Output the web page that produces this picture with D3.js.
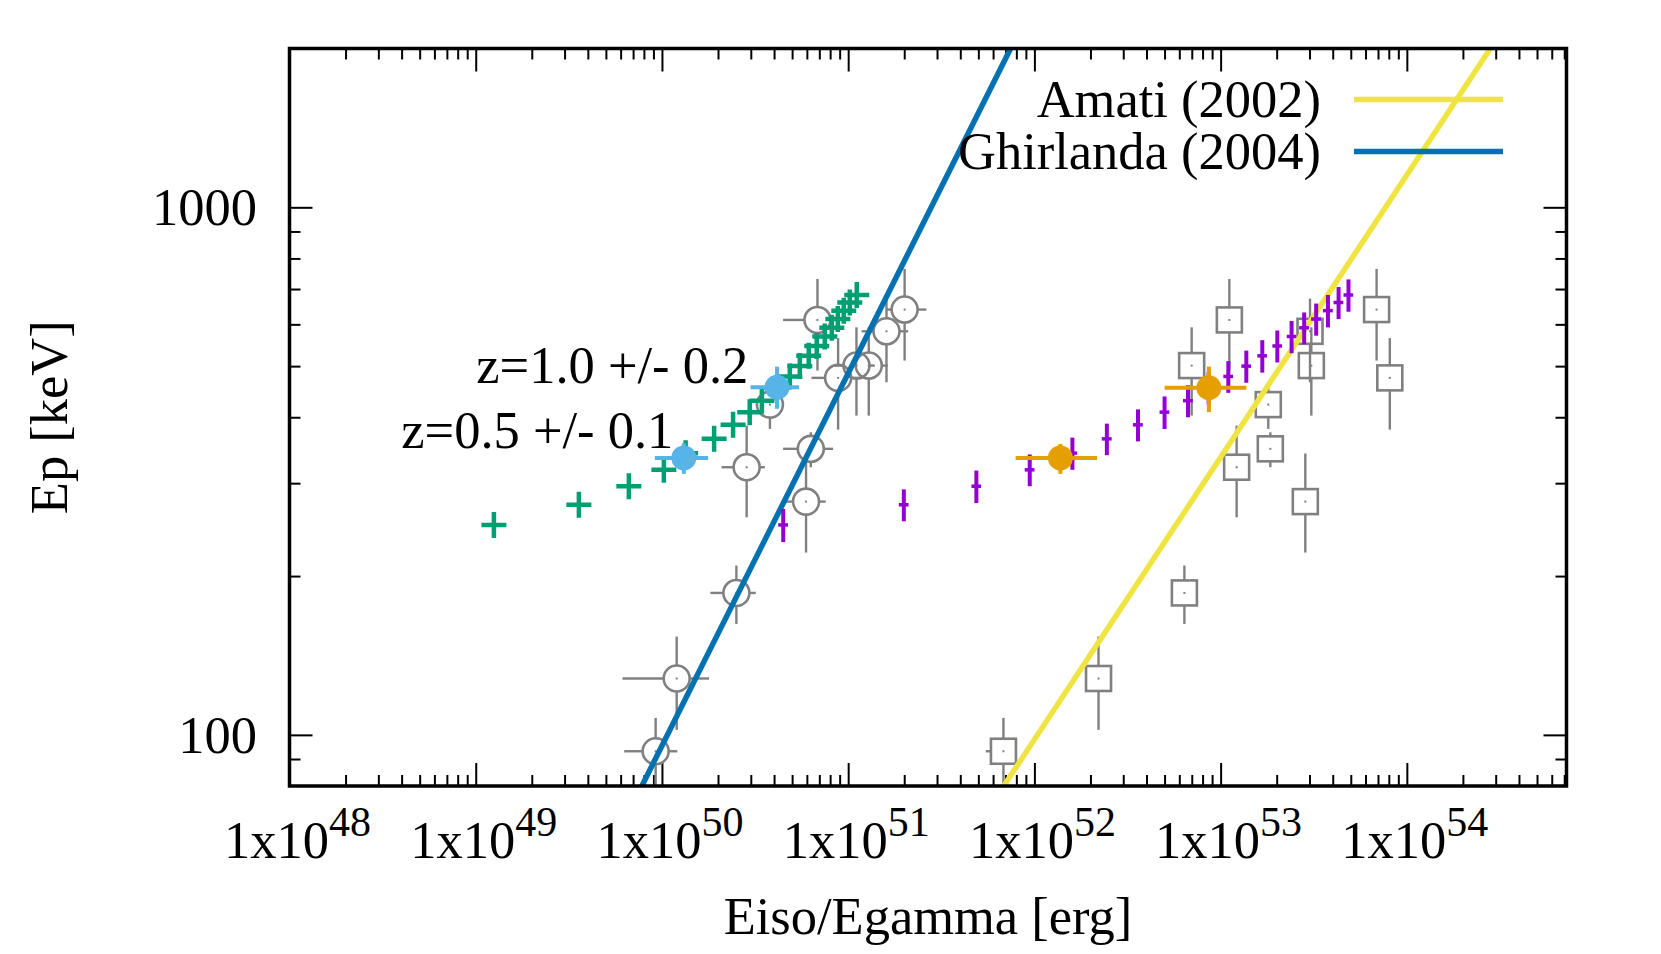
<!DOCTYPE html>
<html><head><meta charset="utf-8">
<script src="https://cdn.jsdelivr.net/npm/d3@7"></script>
<style>
body{margin:0;background:#fff}
svg{display:block}
text{font-family:"Liberation Serif","Times New Roman",serif;fill:#000}
</style>
</head><body>
<svg id="chart" width="1661" height="954"></svg>
<script>
// ---------------- data ----------------
const xTickExps = [48, 49, 50, 51, 52, 53, 54];
const xMinorMult = [2, 3, 4, 5, 6, 7, 8, 9];
const yTickValues = [100, 1000];
const yMinorValues = [90, 200, 300, 400, 500, 600, 700, 800, 900];

// Ghirlanda sample (open circles, Egamma) and Amati sample (open squares, Eiso)
const circE   = [9.25e49, 1.20e50, 2.51e50, 5.94e50, 6.30e50, 2.85e50, 3.80e50, 6.84e50, 8.83e50, 1.108e51, 1.29e51, 1.606e51, 2.01e51];
const circElo = [6.27e49, 6.14e49, 1.82e50, 4.39e50, 4.47e50, 2.09e50, 3.20e50, 4.47e50, 6.35e50, 8.48e50, 1.046e51, 1.18e51, 1.606e51];
const circEhi = [1.21e50, 1.79e50, 3.19e50, 7.58e50, 8.30e50, 3.57e50, 4.50e50, 7.96e50, 1.18e51, 1.39e51, 1.63e51, 2.10e51, 2.63e51];
const sampleEp   = [93.1, 127.9, 185.8, 276.8, 348.5, 321.6, 422.7, 611.7, 475, 501.2, 501.2, 582.1, 640];
const sampleEpLo = [72, 102.2, 162.3, 221.6, 321.6, 258.5, 380.2, 490.4, 379, 402.9, 402.9, 465.9, 512.2];
const sampleEpHi = [107.7, 153.6, 209.4, 341.5, 374.6, 385.7, 463.9, 731.5, 565, 592.4, 592.4, 671.4, 764.2];
const sqE   = [6.82e51, 2.21e52, 6.39e52, 2.85e53, 1.849e53, 1.219e53, 1.803e53, 1.114e53, 8.10e53, 6.99e52, 3.07e53, 3.02e53, 6.88e53];
const sqElo = [5.48e51, 2.21e52, 6.39e52, 2.85e53, 1.849e53, 1.219e53, 1.803e53, 1.114e53, 8.10e53, 6.99e52, 3.07e53, 3.02e53, 6.88e53];
const sqEhi = [8.00e51, 2.21e52, 6.39e52, 2.85e53, 1.849e53, 1.219e53, 1.803e53, 1.114e53, 8.10e53, 6.99e52, 3.07e53, 3.02e53, 6.88e53];

// One burst placed at z = 0.1 ... 2.0 (green: Egamma, purple: Eiso)
const zEp     = [250, 273, 296, 318, 342, 364, 387, 409, 430, 455, 478, 500, 523, 546, 569, 591, 614, 637, 660, 682];
const greenE  = [1.252e49, 3.58e49, 6.64e49, 1.024e50, 1.34e50, 1.906e50, 2.41e50, 2.96e50, 3.44e50, 4.14e50, 4.86e50, 5.50e50, 6.14e50, 6.78e50, 7.49e50, 8.17e50, 8.80e50, 9.47e50, 1.02e51, 1.112e51];
const purpleE = [4.48e50, 1.99e51, 4.88e51, 9.44e51, 1.60e52, 2.45e52, 3.60e52, 5.00e52, 6.68e52, 8.62e52, 1.10e53, 1.374e53, 1.674e53, 2.016e53, 2.405e53, 2.81e53, 3.26e53, 3.77e53, 4.30e53, 4.86e53];
const purpleEErr  = [2.7e49, 1.2e50, 2.9e50, 5.7e50, 9.6e50, 1.5e51, 2.2e51, 3.0e51, 4.0e51, 5.2e51, 6.6e51, 8.2e51, 1.0e52, 1.2e52, 1.4e52, 1.7e52, 2.0e52, 2.3e52, 2.6e52, 2.9e52];
const purpleEpErr = [18, 19, 21, 22, 24, 25, 27, 29, 30, 32, 33, 35, 37, 38, 40, 41, 43, 45, 46, 48];

// highlighted redshift estimates
const blueE    = [1.311e50, 4.15e50];
const blueElo  = [9.16e49, 2.99e50];
const blueEhi  = [1.77e50, 5.45e50];
const blueEp   = [335, 456];
const blueEpLo = [312.5, 415];
const blueEpHi = [357, 499];
const orangeE    = [1.379e52, 8.65e52];
const orangeElo  = [7.93e51, 5.00e52];
const orangeEhi  = [2.17e52, 1.374e53];
const orangeEp   = [335, 455];
const orangeEpLo = [312.5, 409];
const orangeEpHi = [356, 499];

const zLabels   = ["z=1.0 +/- 0.2", "z=0.5 +/- 0.1"];
const zLabelE   = [2.91e50, 1.151e50];
const zLabelEp  = [464, 349.4];

// relations
const amati     = {name: "Amati (2002)",     K: 98,  E0: 1e52,   a: 0.535};
const ghirlanda = {name: "Ghirlanda (2004)", K: 267, E0: 4.3e50, a: 0.706};

// ---------------- drawing ----------------
const svg = d3.select("#chart");
const P = {l: 289.5, r: 1566.5, t: 48.5, b: 786};
const x = d3.scaleLog().domain([1e48, 7.2e54]).range([P.l, P.r]);
const y = d3.scaleLog().domain([80, 2000]).range([P.b, P.t]);
const FS = 52.5;
const gray = "#808080";

svg.append("defs").append("clipPath").attr("id", "clip")
  .append("rect").attr("x", P.l).attr("y", P.t).attr("width", P.r - P.l).attr("height", P.b - P.t);

// ticks
const xMajor = xTickExps.map(e => Math.pow(10, e));
const xMinor = [];
xTickExps.forEach(e => xMinorMult.forEach(m => { const v = m * Math.pow(10, e); if (v < x.domain()[1]) xMinor.push(v); }));

function axisG(axis, tx, ty) {
  const g = svg.append("g").attr("transform", `translate(${tx},${ty})`).call(axis);
  g.select(".domain").remove();
  g.selectAll("line").attr("stroke", "#000").attr("stroke-width", 2);
  g.selectAll("text").remove();
  return g;
}
axisG(d3.axisBottom(x).tickValues(xMajor).tickSize(-23).tickFormat(""), 0, P.b);
axisG(d3.axisBottom(x).tickValues(xMinor).tickSize(-11).tickFormat(""), 0, P.b);
axisG(d3.axisTop(x).tickValues(xMajor).tickSize(-23).tickFormat(""), 0, P.t);
axisG(d3.axisTop(x).tickValues(xMinor).tickSize(-11).tickFormat(""), 0, P.t);
axisG(d3.axisLeft(y).tickValues(yTickValues).tickSize(-23).tickFormat(""), P.l, 0);
axisG(d3.axisLeft(y).tickValues(yMinorValues).tickSize(-11).tickFormat(""), P.l, 0);
axisG(d3.axisRight(y).tickValues(yTickValues).tickSize(-23).tickFormat(""), P.r, 0);
axisG(d3.axisRight(y).tickValues(yMinorValues).tickSize(-11).tickFormat(""), P.r, 0);

// tick labels
xTickExps.forEach(e => {
  const t = svg.append("text").attr("x", x(Math.pow(10, e)) + 8).attr("y", 858)
    .attr("text-anchor", "middle").attr("font-size", FS);
  t.append("tspan").text("1x10");
  t.append("tspan").attr("dy", -22).attr("font-size", 42).text(e);
});
yTickValues.forEach(v => {
  svg.append("text").attr("x", 257).attr("y", y(v) + 18).attr("text-anchor", "end")
    .attr("font-size", FS).text(v);
});

// axis titles
svg.append("text").attr("x", (P.l + P.r) / 2).attr("y", 934).attr("text-anchor", "middle")
  .attr("font-size", FS).text("Eiso/Egamma [erg]");
svg.append("text").attr("transform", `translate(67,${(P.t + P.b) / 2}) rotate(-90)`)
  .attr("text-anchor", "middle").attr("font-size", FS).text("Ep [keV]");

const plot = svg.append("g").attr("clip-path", "url(#clip)");

// error bars with gap around open symbol
function gapBars(g, xs, xlo, xhi, ys, ylo, yhi, gap, color, w) {
  xs.forEach((e, i) => {
    const cx = x(e), cy = y(ys[i]);
    const segs = [];
    const yT = y(yhi[i]), yB = y(ylo[i]), xL = x(xlo[i]), xR = x(xhi[i]);
    if (yT < cy - gap) segs.push([cx, yT, cx, cy - gap]);
    if (yB > cy + gap) segs.push([cx, cy + gap, cx, yB]);
    if (xL < cx - gap) segs.push([xL, cy, cx - gap, cy]);
    if (xR > cx + gap) segs.push([cx + gap, cy, xR, cy]);
    segs.forEach(s => g.append("line").attr("x1", s[0]).attr("y1", s[1]).attr("x2", s[2]).attr("y2", s[3])
      .attr("stroke", color).attr("stroke-width", w));
  });
}
function fullBars(g, xs, xlo, xhi, ys, ylo, yhi, color, w) {
  xs.forEach((e, i) => {
    const cx = x(e), cy = y(ys[i]);
    g.append("line").attr("x1", cx).attr("x2", cx).attr("y1", y(yhi[i])).attr("y2", y(ylo[i]))
      .attr("stroke", color).attr("stroke-width", w);
    g.append("line").attr("x1", x(xlo[i])).attr("x2", x(xhi[i])).attr("y1", cy).attr("y2", cy)
      .attr("stroke", color).attr("stroke-width", w);
  });
}

// gray open circles
const gC = plot.append("g");
gapBars(gC, circE, circElo, circEhi, sampleEp, sampleEpLo, sampleEpHi, 13, gray, 2.4);
gC.selectAll("circle.o").data(circE).join("circle")
  .attr("cx", d => x(d)).attr("cy", (d, i) => y(sampleEp[i])).attr("r", 13)
  .attr("fill", "none").attr("stroke", gray).attr("stroke-width", 2.6);
gC.selectAll("rect.d").data(circE).join("rect")
  .attr("x", d => x(d) - 1).attr("y", (d, i) => y(sampleEp[i]) - 1).attr("width", 2).attr("height", 2)
  .attr("fill", gray);

// gray open squares
const gS = plot.append("g");
gapBars(gS, sqE, sqElo, sqEhi, sampleEp, sampleEpLo, sampleEpHi, 12.5, gray, 2.4);
gS.selectAll("rect.s").data(sqE).join("rect")
  .attr("x", d => x(d) - 12.5).attr("y", (d, i) => y(sampleEp[i]) - 12.5).attr("width", 25).attr("height", 25)
  .attr("fill", "none").attr("stroke", gray).attr("stroke-width", 2.6);
gS.selectAll("rect.d").data(sqE).join("rect")
  .attr("x", d => x(d) - 1).attr("y", (d, i) => y(sampleEp[i]) - 1).attr("width", 2).attr("height", 2)
  .attr("fill", gray);

// relations
function relLine(rel, color) {
  const ep = e => rel.K * Math.pow(e / rel.E0, rel.a);
  const es = [x.domain()[0], x.domain()[1]];
  plot.append("line").attr("x1", x(es[0])).attr("y1", y(ep(es[0])))
    .attr("x2", x(es[1])).attr("y2", y(ep(es[1])))
    .attr("stroke", color).attr("stroke-width", 5.5);
}
relLine(amati, "#f0e442");
relLine(ghirlanda, "#0072b2");

// green pluses
const gG = plot.append("g");
greenE.forEach((e, i) => {
  const cx = x(e), cy = y(zEp[i]);
  gG.append("path").attr("d", `M${cx - 12.5},${cy}H${cx + 12.5}M${cx},${cy - 13}V${cy + 13}`)
    .attr("stroke", "#009e73").attr("stroke-width", 4.5).attr("fill", "none");
});

// purple error bars
const gP = plot.append("g");
purpleE.forEach((e, i) => {
  const cx = x(e), cy = y(zEp[i]);
  gP.append("line").attr("x1", cx).attr("x2", cx).attr("y1", y(zEp[i] + purpleEpErr[i])).attr("y2", y(zEp[i] - purpleEpErr[i]))
    .attr("stroke", "#9400d3").attr("stroke-width", 4);
  gP.append("line").attr("x1", x(e - purpleEErr[i])).attr("x2", x(e + purpleEErr[i])).attr("y1", cy).attr("y2", cy)
    .attr("stroke", "#9400d3").attr("stroke-width", 3.5);
});

// light blue and orange estimates
const gB = plot.append("g");
fullBars(gB, blueE, blueElo, blueEhi, blueEp, blueEpLo, blueEpHi, "#56b4e9", 4);
gB.selectAll("circle").data(blueE).join("circle").attr("cx", d => x(d)).attr("cy", (d, i) => y(blueEp[i]))
  .attr("r", 12.5).attr("fill", "#56b4e9");
const gO = plot.append("g");
fullBars(gO, orangeE, orangeElo, orangeEhi, orangeEp, orangeEpLo, orangeEpHi, "#e69f00", 4);
gO.selectAll("circle").data(orangeE).join("circle").attr("cx", d => x(d)).attr("cy", (d, i) => y(orangeEp[i]))
  .attr("r", 12.5).attr("fill", "#e69f00");

// labels
zLabels.forEach((t, i) => {
  svg.append("text").attr("x", x(zLabelE[i])).attr("y", y(zLabelEp[i])).attr("text-anchor", "end")
    .attr("font-size", FS).text(t);
});

// legend
[[amati, "#f0e442"], [ghirlanda, "#0072b2"]].forEach(([rel, c], i) => {
  const ly = 99.6 + i * 52;
  svg.append("text").attr("x", 1321).attr("y", ly + 17).attr("text-anchor", "end").attr("font-size", FS).text(rel.name);
  svg.append("line").attr("x1", 1354).attr("x2", 1503).attr("y1", ly).attr("y2", ly)
    .attr("stroke", c).attr("stroke-width", 5.5);
});

// border
svg.append("rect").attr("x", P.l).attr("y", P.t).attr("width", P.r - P.l).attr("height", P.b - P.t)
  .attr("fill", "none").attr("stroke", "#000").attr("stroke-width", 3.5);
</script>
</body></html>
